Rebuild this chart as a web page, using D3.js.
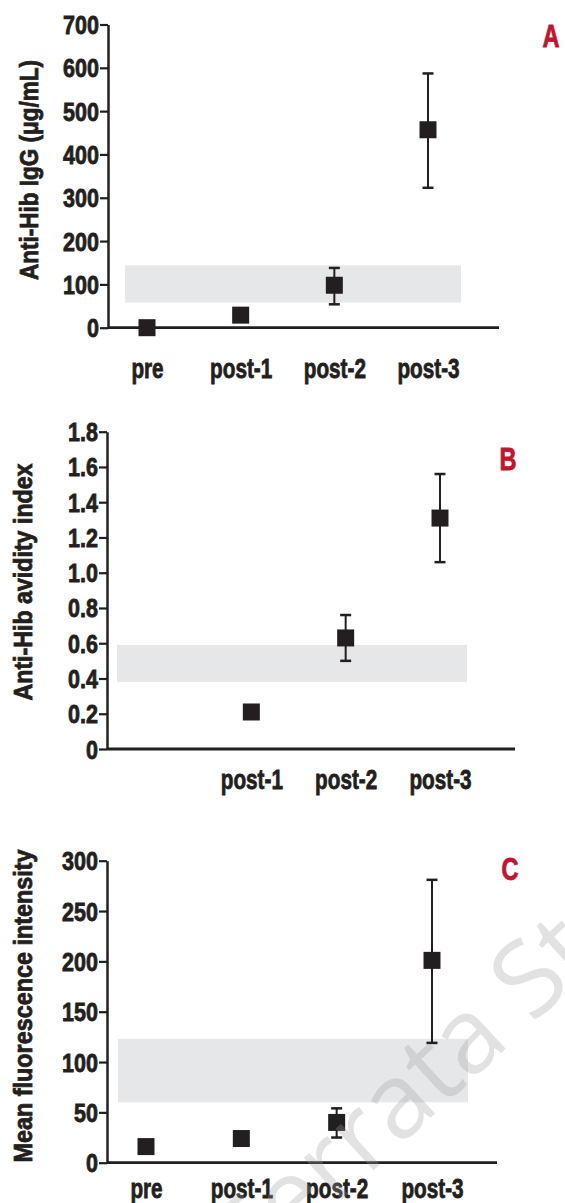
<!DOCTYPE html>
<html>
<head>
<meta charset="utf-8">
<script src="https://cdn.jsdelivr.net/npm/d3@7"></script>
<style>
  html, body { margin: 0; padding: 0; background: #fff; }
  svg text.cond { font-family: "Liberation Sans", Arial, sans-serif; font-weight: bold; fill: #231f20; stroke: #231f20; stroke-width: 0.8px; }
</style>
</head>
<body>
<div id="main"></div>
<script>
var categories = ["pre", "post-1", "post-2", "post-3"];

// A: anti-Hib IgG (ug/mL)
var iggMean = [0, 29, 98, 457];
var iggLow = [null, null, 54, 323];
var iggHigh = [null, null, 138, 587];
var iggBand = [58, 144];
var iggTicks = [0, 100, 200, 300, 400, 500, 600, 700];
var iggXLabels = ["pre", "post-1", "post-2", "post-3"];

// B: avidity index (no pre value)
var avidMean = [null, 0.21, 0.63, 1.31];
var avidLow = [null, null, 0.50, 1.06];
var avidHigh = [null, null, 0.76, 1.56];
var avidBand = [0.38, 0.59];
var avidTicks = [0, 0.2, 0.4, 0.6, 0.8, 1.0, 1.2, 1.4, 1.6, 1.8];
var avidTickLabels = ["0", "0.2", "0.4", "0.6", "0.8", "1.0", "1.2", "1.4", "1.6", "1.8"];
var avidXLabels = ["", "post-1", "post-2", "post-3"];

// C: mean fluorescence intensity
var mfiMean = [16, 24, 40, 201];
var mfiLow = [null, null, 25, 119];
var mfiHigh = [null, null, 54, 281];
var mfiBand = [60, 123];
var mfiTicks = [0, 50, 100, 150, 200, 250, 300];
var mfiXLabels = ["pre", "post-1", "post-2", "post-3"];

var ink = "#231f20";

var svg = d3.select("#main").append("svg")
    .attr("width", 565)
    .attr("height", 1203);

svg.append("rect").attr("width", 565).attr("height", 1203).attr("fill", "#fff");

// squeeze a bold sans into a condensed face
function condense(sel, f) {
  sel.each(function() {
    var w = this.getComputedTextLength();
    if (w > 0) d3.select(this).attr("textLength", w * f).attr("lengthAdjust", "spacingAndGlyphs");
  });
}

function drawPanel(p) {
  var y = d3.scaleLinear().domain([0, p.ticks[p.ticks.length - 1]]).range([p.y0, p.y1]);
  var x = d3.scalePoint().domain(categories).range(p.xr);
  var g = svg.append("g");

  // reference band
  g.append("rect")
      .attr("x", p.bx[0])
      .attr("width", p.bx[1] - p.bx[0])
      .attr("y", y(p.band[1]))
      .attr("height", y(p.band[0]) - y(p.band[1]))
      .attr("fill", "#e6e7e8");

  // y axis
  var ya = g.append("g")
      .attr("transform", "translate(" + p.ax + ",0)")
      .call(d3.axisLeft(y)
        .tickValues(p.ticks)
        .tickSize(8)
        .tickSizeOuter(0)
        .tickPadding(1)
        .tickFormat(function(d, i) { return p.tickLabels ? p.tickLabels[i] : d; }));
  ya.attr("font-family", null).attr("font-size", null);
  ya.select(".domain").attr("stroke", ink).attr("stroke-width", 2.5);
  ya.selectAll(".tick line").attr("stroke", ink).attr("stroke-width", 2.2);
  ya.selectAll(".tick text")
      .attr("class", "cond")
      .attr("font-size", 25)
      .attr("dy", "0.36em");
  condense(ya.selectAll(".tick text"), 0.86);

  // x axis
  var xa = g.append("g")
      .attr("transform", "translate(0," + y(0) + ")")
      .call(d3.axisBottom(x).tickSize(0).tickSizeOuter(0).tickFormat(function(d, i) { return p.xLabels[i]; }));
  xa.attr("font-family", null).attr("font-size", null);
  xa.select(".domain").remove();
  xa.append("line")
      .attr("x1", p.ax).attr("x2", p.xEnd)
      .attr("stroke", ink).attr("stroke-width", 2.8);
  xa.selectAll(".tick text")
      .attr("class", "cond")
      .attr("font-size", 28)
      .attr("y", p.labelY)
      .attr("dy", 0);
  condense(xa.selectAll(".tick text"), 0.74);

  var pts = categories.map(function(c, i) {
    return { c: c, m: p.mean[i], lo: p.low[i], hi: p.high[i] };
  }).filter(function(d) { return d.m !== null; });

  // error bars
  var eb = g.selectAll(".err").data(pts.filter(function(d) { return d.lo !== null; }))
    .enter().append("g").attr("class", "err");
  eb.append("line")
      .attr("x1", function(d) { return x(d.c); }).attr("x2", function(d) { return x(d.c); })
      .attr("y1", function(d) { return y(d.lo); }).attr("y2", function(d) { return y(d.hi); })
      .attr("stroke", ink).attr("stroke-width", 2);
  ["lo", "hi"].forEach(function(k) {
    eb.append("line")
        .attr("x1", function(d) { return x(d.c) - 5.5; }).attr("x2", function(d) { return x(d.c) + 5.5; })
        .attr("y1", function(d) { return y(d[k]); }).attr("y2", function(d) { return y(d[k]); })
        .attr("stroke", ink).attr("stroke-width", 2.5);
  });

  // square markers
  g.selectAll(".pt").data(pts).enter().append("rect")
      .attr("class", "pt")
      .attr("x", function(d) { return x(d.c) - 8.5; })
      .attr("y", function(d) { return y(d.m) - 8.5; })
      .attr("width", 17).attr("height", 17)
      .attr("fill", ink);

  // y title
  g.append("text")
      .attr("class", "cond")
      .attr("transform", "translate(" + p.title[0] + "," + p.title[1] + ") rotate(-90)")
      .attr("text-anchor", "middle")
      .attr("font-size", 26)
      .attr("textLength", p.title[2])
      .attr("lengthAdjust", "spacingAndGlyphs")
      .text(p.titleText);

  // panel letter
  var lt = g.append("text")
      .attr("class", "cond")
      .attr("x", p.letter[0]).attr("y", p.letter[1])
      .attr("text-anchor", "middle")
      .attr("font-size", 31)
      .style("fill", "#c4122f")
      .style("stroke", "#c4122f")
      .text(p.letterText);
  condense(lt, 0.76);
}

drawPanel({
  mean: iggMean, low: iggLow, high: iggHigh, band: iggBand, ticks: iggTicks, xLabels: iggXLabels,
  y0: 327.7, y1: 24.5, ax: 108, xEnd: 499, xr: [147, 428], bx: [125, 461], labelY: 50.5,
  title: [38, 170, 220], titleText: "Anti-Hib IgG (\u03bcg/mL)",
  letter: [551, 47], letterText: "A"
});

drawPanel({
  mean: avidMean, low: avidLow, high: avidHigh, band: avidBand, ticks: avidTicks, tickLabels: avidTickLabels, xLabels: avidXLabels,
  y0: 749, y1: 431.7, ax: 107, xEnd: 515, xr: [157, 440], bx: [117, 467], labelY: 40,
  title: [32, 582, 237], titleText: "Anti-Hib avidity index",
  letter: [508, 470], letterText: "B"
});

drawPanel({
  mean: mfiMean, low: mfiLow, high: mfiHigh, band: mfiBand, ticks: mfiTicks, xLabels: mfiXLabels,
  y0: 1162.7, y1: 860.7, ax: 107, xEnd: 497, xr: [146, 432], bx: [118, 468], labelY: 35.6,
  title: [32, 1006, 313], titleText: "Mean fluorescence intensity",
  letter: [510, 880], letterText: "C"
});

// publisher watermark laid over the lower panel
svg.append("text")
    .attr("transform", "translate(252,1282) rotate(-42.6)")
    .attr("font-size", 105)
    .style("font-family", "'Open Sans', Roboto, sans-serif")
    .style("font-weight", 400)
    .style("fill", "#9f9f9f")
    .style("fill-opacity", 0.3)
    .text("Ferrata Storti Foundation");
</script>
</body>
</html>
